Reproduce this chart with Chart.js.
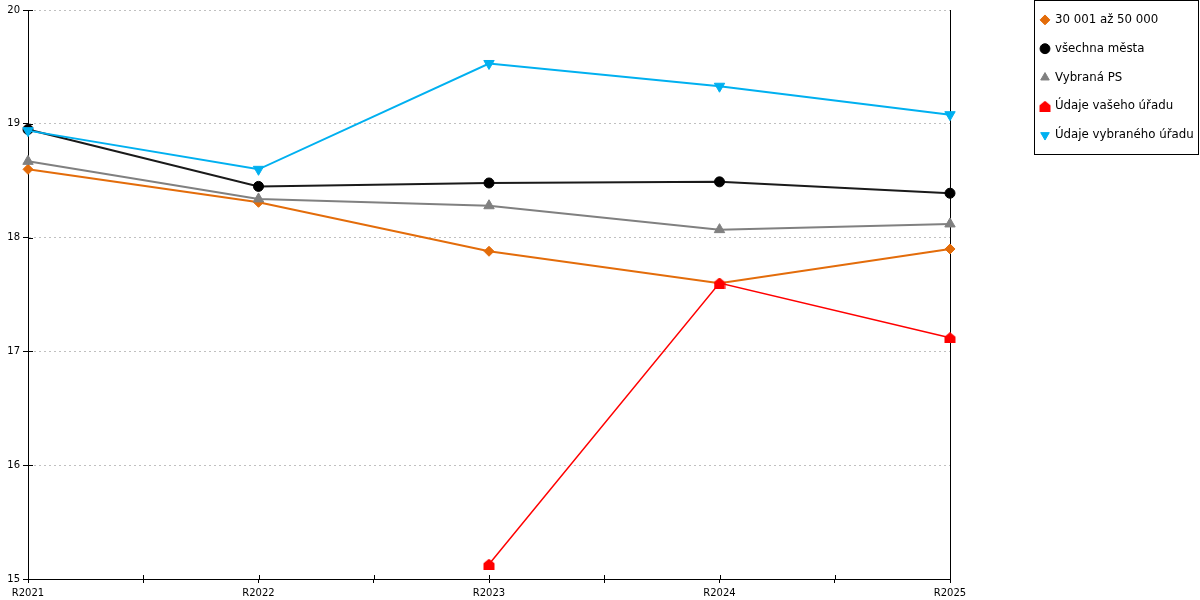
<!DOCTYPE html>
<html lang="cs">
<head>
    <meta charset="utf-8">
    <title>Vývoj ukazatele</title>
    <script src="https://cdn.jsdelivr.net/npm/chart.js"></script>
    <style>
        html, body { margin: 0; padding: 0; background: #fff; }
        #wrap { width: 1200px; height: 600px; }
    </style>
</head>
<body>
    <div id="wrap"><canvas id="lineChart" width="1200" height="600"></canvas></div>
    <script>
        // categories and series
        const years = ['R2021', 'R2022', 'R2023', 'R2024', 'R2025'];
        const obce30k = [18.60, 18.31, 17.88, 17.60, 17.90];
        const vsechnaMesta = [18.95, 18.45, 18.48, 18.49, 18.39];
        const vybranaPS = [18.67, 18.34, 18.28, 18.07, 18.12];
        const vasUrad = [null, null, 15.13, 17.60, 17.12];
        const vybranyUrad = [18.94, 18.60, 19.53, 19.33, 19.08];
        const yTicks = [15, 16, 17, 18, 19, 20];

        const FONT = 'DejaVu Sans';

        // "house" marker (square with pointed roof) for the red series
        function houseMarker(color) {
            const c = document.createElement('canvas');
            c.width = 12; c.height = 11;
            const g = c.getContext('2d');
            g.fillStyle = color;
            g.beginPath();
            g.moveTo(6, 0);
            g.lineTo(11.5, 4.5);
            g.lineTo(11.5, 11);
            g.lineTo(0.5, 11);
            g.lineTo(0.5, 4.5);
            g.closePath();
            g.fill();
            return c;
        }

        function toPoints(arr) {
            return arr.map((v, i) => ({ x: i, y: v }));
        }

        function series(label, values, color, style, extra) {
            return Object.assign({
                label: label,
                data: toPoints(values),
                borderColor: color,
                backgroundColor: color,
                pointBackgroundColor: color,
                pointBorderColor: color,
                pointBorderWidth: 1,
                borderWidth: 2,
                pointStyle: style,
                pointRadius: 5,
                pointHoverRadius: 5,
                tension: 0,
                fill: false,
                clip: false
            }, extra || {});
        }

        // legend frame + put the legend where the original has it
        const legendFrame = {
            id: 'legendFrame',
            afterLayout(chart) {
                const lg = chart.legend;
                const dy = 14 - (lg.top + 17);
                const dx = 1041 - (lg.left + 17);
                lg.top += dy;
                lg.bottom += dy;
                lg.left += dx;
                lg.right += dx;
            },
            afterDraw(chart) {
                const hb = chart.legend.legendHitBoxes;
                if (!hb || !hb.length) return;
                let left = Infinity, right = -Infinity;
                hb.forEach(b => {
                    left = Math.min(left, b.left);
                    right = Math.max(right, b.left + b.width);
                });
                const top = hb[0].top - 14;
                const bottom = hb[hb.length - 1].top + hb[hb.length - 1].height + 13;
                const ctx = chart.ctx;
                ctx.save();
                ctx.strokeStyle = '#000';
                ctx.lineWidth = 1;
                ctx.strokeRect(Math.round(left - 7) + 0.5, Math.max(top, 0) + 0.5,
                    Math.round(right + 4 - (left - 7)), Math.round(bottom - Math.max(top, 0)));
                ctx.restore();
            }
        };

        // tick marks that also poke into the plot, like the original
        const innerTicks = {
            id: 'innerTicks',
            beforeDatasetsDraw(chart) {
                const { ctx, chartArea: a, scales } = chart;
                ctx.save();
                ctx.strokeStyle = '#000';
                ctx.lineWidth = 1;
                ctx.beginPath();
                scales.x.ticks.forEach(t => {
                    const px = Math.round(scales.x.getPixelForValue(t.value)) + 0.5;
                    ctx.moveTo(px, a.bottom);
                    ctx.lineTo(px, a.bottom - 4);
                });
                scales.y.ticks.forEach(t => {
                    const py = Math.round(scales.y.getPixelForValue(t.value)) + 0.5;
                    ctx.moveTo(a.left, py);
                    ctx.lineTo(a.left + 5, py);
                });
                ctx.stroke();
                ctx.restore();
            }
        };

        const ctx = document.getElementById('lineChart').getContext('2d');
        const chart = new Chart(ctx, {
            type: 'line',
            data: {
                datasets: [
                    series('30 001 až 50 000', obce30k, '#E36C0A', 'rectRot', { order: 5, pointRadius: 5 }),
                    series('všechna města', vsechnaMesta, '#000000', 'circle', { order: 4, pointRadius: 5, borderColor: '#1a1a1a' }),
                    series('Vybraná PS', vybranaPS, '#808080', 'triangle', { order: 3, pointRadius: 6 }),
                    series('Údaje vašeho úřadu', vasUrad, '#FF0000', houseMarker('#FF0000'), { order: 2, borderWidth: 1.5 }),
                    series('Údaje vybraného úřadu', vybranyUrad, '#00B0F0', 'triangle', { order: 1, pointRadius: 6, pointRotation: 180 })
                ]
            },
            options: {
                responsive: false,
                animation: false,
                layout: { padding: { top: 10, right: 7, bottom: 0, left: 0 } },
                plugins: {
                    tooltip: { enabled: false },
                    legend: {
                        position: 'right',
                        align: 'start',
                        labels: {
                            usePointStyle: true,
                            boxWidth: 8,
                            boxHeight: 7,
                            padding: 17,
                            color: '#000',
                            font: { family: FONT, size: 11.8 },
                            sort: (a, b) => a.datasetIndex - b.datasetIndex
                        }
                    }
                },
                scales: {
                    x: {
                        type: 'linear',
                        min: 0,
                        max: years.length - 1,
                        afterFit: s => { s.height = 21; },
                        ticks: {
                            stepSize: 0.5,
                            autoSkip: false,
                            maxRotation: 0,
                            padding: 4,
                            color: '#000',
                            font: { family: FONT, size: 10 },
                            callback: v => Number.isInteger(v) ? years[v] : ''
                        },
                        grid: {
                            display: true,
                            drawOnChartArea: false,
                            drawTicks: true,
                            tickLength: 4,
                            tickColor: '#000'
                        },
                        border: { display: true, color: '#000', width: 1 }
                    },
                    y: {
                        position: 'left',
                        min: 15,
                        max: 20,
                        afterFit: s => { s.width = 28; },
                        afterBuildTicks: s => { s.ticks = yTicks.map(v => ({ value: v })); },
                        ticks: {
                            padding: 3,
                            color: '#000',
                            font: { family: FONT, size: 10 }
                        },
                        grid: {
                            color: '#c0c0c0',
                            lineWidth: 1,
                            tickLength: 5,
                            tickColor: '#000',
                            tickBorderDash: [],
                            drawTicks: true
                        },
                        border: { display: true, color: '#000', width: 1, dash: [2, 3] }
                    },
                    y2: {
                        position: 'right',
                        min: 15,
                        max: 20,
                        afterFit: s => {
                            const lg = s.chart.legend;
                            const w = lg ? s.chart.width - 7 - lg.width - 950 : 70;
                            s.width = Math.max(w, 0);
                        },
                        ticks: { display: false },
                        grid: { display: false, drawOnChartArea: false },
                        border: { display: true, color: '#000', width: 1 }
                    }
                }
            },
            plugins: [legendFrame, innerTicks]
        });
    </script>
</body>
</html>
